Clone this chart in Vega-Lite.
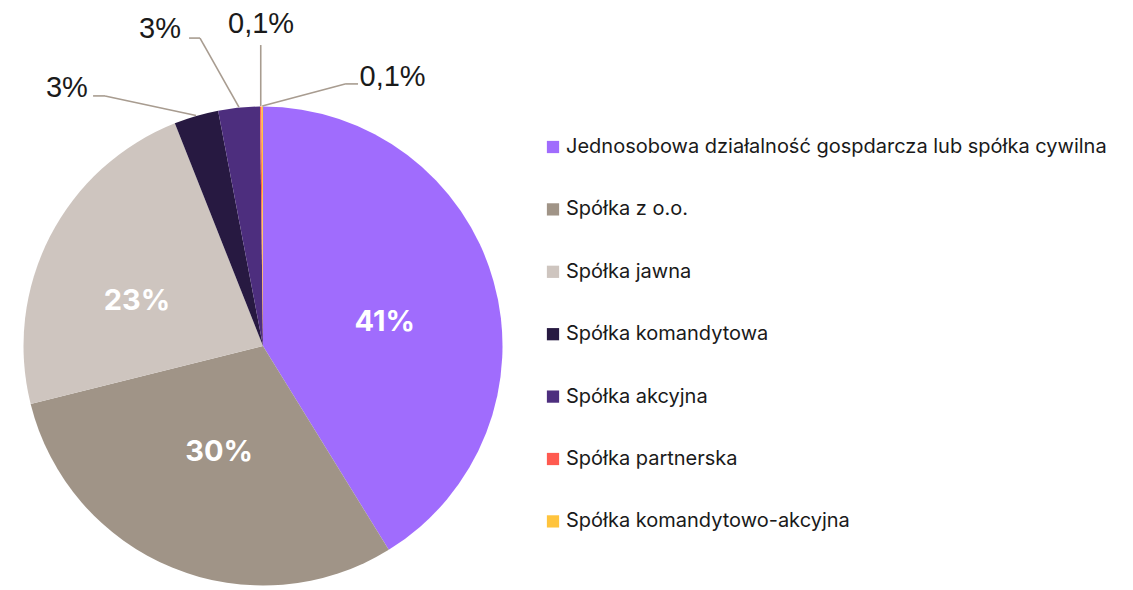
{
  "$schema": "https://vega.github.io/schema/vega-lite/v6.json",
  "width": 480,
  "height": 480,
  "autosize": {"type": "none"},
  "padding": {"left": 23, "top": 106, "right": 630, "bottom": 4},
  "background": "#ffffff",
  "config": {"view": {"stroke": null}},
  "data": {
    "values": [
      {"cat": "Jednosobowa działalność gospdarcza lub spółka cywilna", "value": 41.2, "label": "41%"},
      {"cat": "Spółka z o.o.", "value": 29.9, "label": "30%"},
      {"cat": "Spółka jawna", "value": 22.9, "label": "23%"},
      {"cat": "Spółka komandytowa", "value": 3.0, "label": "3%"},
      {"cat": "Spółka akcyjna", "value": 2.8, "label": "3%"},
      {"cat": "Spółka partnerska", "value": 0.1, "label": "0,1%"},
      {"cat": "Spółka komandytowo-akcyjna", "value": 0.1, "label": "0,1%"}
    ]
  },
  "transform": [
    {"window": [{"op": "row_number", "as": "idx"}]},
    {"joinaggregate": [{"op": "sum", "field": "value", "as": "total"}]},
    {"window": [{"op": "sum", "field": "value", "as": "cum"}], "frame": [null, 0]},
    {"calculate": "2*PI*(datum.cum - datum.value/2)/datum.total", "as": "mid"},
    {"calculate": "sin(datum.mid)", "as": "ex"},
    {"calculate": "cos(datum.mid)", "as": "ey"},
    {"calculate": "datum.idx==1 ? 0.517 : datum.idx==2 ? 0.48 : 0.558", "as": "ir"},
    {"calculate": "datum.mid + (datum.idx==1 ? 0.084 : datum.idx==2 ? 0.005 : -0.131)", "as": "ia"},
    {"calculate": "datum.ir*sin(datum.ia)", "as": "ix"},
    {"calculate": "datum.ir*cos(datum.ia)", "as": "iy"},
    {"calculate": "datum.idx==4 ? -0.658 : datum.idx==5 ? -0.2625 : datum.idx==6 ? datum.ex : datum.idx==7 ? 0.342 : 0", "as": "bx"},
    {"calculate": "datum.idx==4 ? 1.042 : datum.idx==5 ? 1.283 : datum.idx==6 ? 1.254 : datum.idx==7 ? 1.092 : 0", "as": "by"},
    {"calculate": "datum.idx==4 ? -0.708 : datum.idx==5 ? -0.308 : datum.idx==6 ? datum.ex : datum.idx==7 ? 0.396 : 0", "as": "hx"},
    {"calculate": "datum.idx==4 ? -0.817 : datum.idx==5 ? -0.429 : datum.idx==6 ? -0.008 : datum.idx==7 ? 0.54 : 0", "as": "tx"},
    {"calculate": "datum.idx==4 ? 1.038 : datum.idx==5 ? 1.283 : datum.idx==6 ? 1.304 : datum.idx==7 ? 1.083 : 0", "as": "ty"}
  ],
  "layer": [
    {
      "mark": {"type": "arc", "radius": 239.5, "strokeWidth": 0},
      "encoding": {
        "theta": {"field": "value", "type": "quantitative", "stack": true},
        "order": {"field": "idx", "type": "quantitative"},
        "color": {
          "field": "cat",
          "type": "nominal",
          "sort": null,
          "scale": {
            "domain": [
              "Jednosobowa działalność gospdarcza lub spółka cywilna",
              "Spółka z o.o.",
              "Spółka jawna",
              "Spółka komandytowa",
              "Spółka akcyjna",
              "Spółka partnerska",
              "Spółka komandytowo-akcyjna"
            ],
            "range": ["#A06CFD", "#A09487", "#CEC5BF", "#271941", "#4D2E7E", "#FF5A50", "#FFC43D"]
          },
          "legend": {
            "title": null,
            "orient": "none",
            "legendX": 520,
            "legendY": 31,
            "padding": 0,
            "symbolType": "square",
            "symbolSize": 150,
            "symbolStrokeWidth": 0,
            "labelFont": "Inter",
            "labelFontSize": 20,
            "labelColor": "#1a1a1a",
            "labelOffset": 3,
            "rowPadding": 42.4,
            "labelLimit": 700
          }
        }
      }
    },
    {
      "transform": [{"filter": "datum.value > 10"}],
      "mark": {"type": "text", "font": "Inter", "fontWeight": "bold", "fontSize": 29, "color": "#ffffff", "align": "center", "baseline": "middle"},
      "encoding": {
        "x": {"field": "ix", "type": "quantitative", "scale": {"domain": [-1, 1], "nice": false, "zero": false}, "axis": null},
        "y": {"field": "iy", "type": "quantitative", "scale": {"domain": [-1, 1], "nice": false, "zero": false}, "axis": null},
        "text": {"field": "label"}
      }
    },
    {
      "transform": [{"filter": "datum.value < 10"}],
      "mark": {"type": "rule", "color": "#A89C90", "strokeWidth": 1.6},
      "encoding": {
        "x": {"field": "ex", "type": "quantitative", "scale": {"domain": [-1, 1], "nice": false, "zero": false}, "axis": null},
        "y": {"field": "ey", "type": "quantitative", "scale": {"domain": [-1, 1], "nice": false, "zero": false}, "axis": null},
        "x2": {"field": "bx"},
        "y2": {"field": "by"}
      }
    },
    {
      "transform": [{"filter": "datum.value < 10"}],
      "mark": {"type": "rule", "color": "#A89C90", "strokeWidth": 1.6},
      "encoding": {
        "x": {"field": "bx", "type": "quantitative", "scale": {"domain": [-1, 1], "nice": false, "zero": false}, "axis": null},
        "y": {"field": "by", "type": "quantitative", "scale": {"domain": [-1, 1], "nice": false, "zero": false}, "axis": null},
        "x2": {"field": "hx"},
        "y2": {"field": "by"}
      }
    },
    {
      "transform": [{"filter": "datum.value < 10"}],
      "mark": {"type": "text", "font": "Liberation Sans", "fontSize": 29, "color": "#1a1a1a", "align": "center", "baseline": "alphabetic"},
      "encoding": {
        "x": {"field": "tx", "type": "quantitative", "scale": {"domain": [-1, 1], "nice": false, "zero": false}, "axis": null},
        "y": {"field": "ty", "type": "quantitative", "scale": {"domain": [-1, 1], "nice": false, "zero": false}, "axis": null},
        "text": {"field": "label"}
      }
    }
  ]
}
